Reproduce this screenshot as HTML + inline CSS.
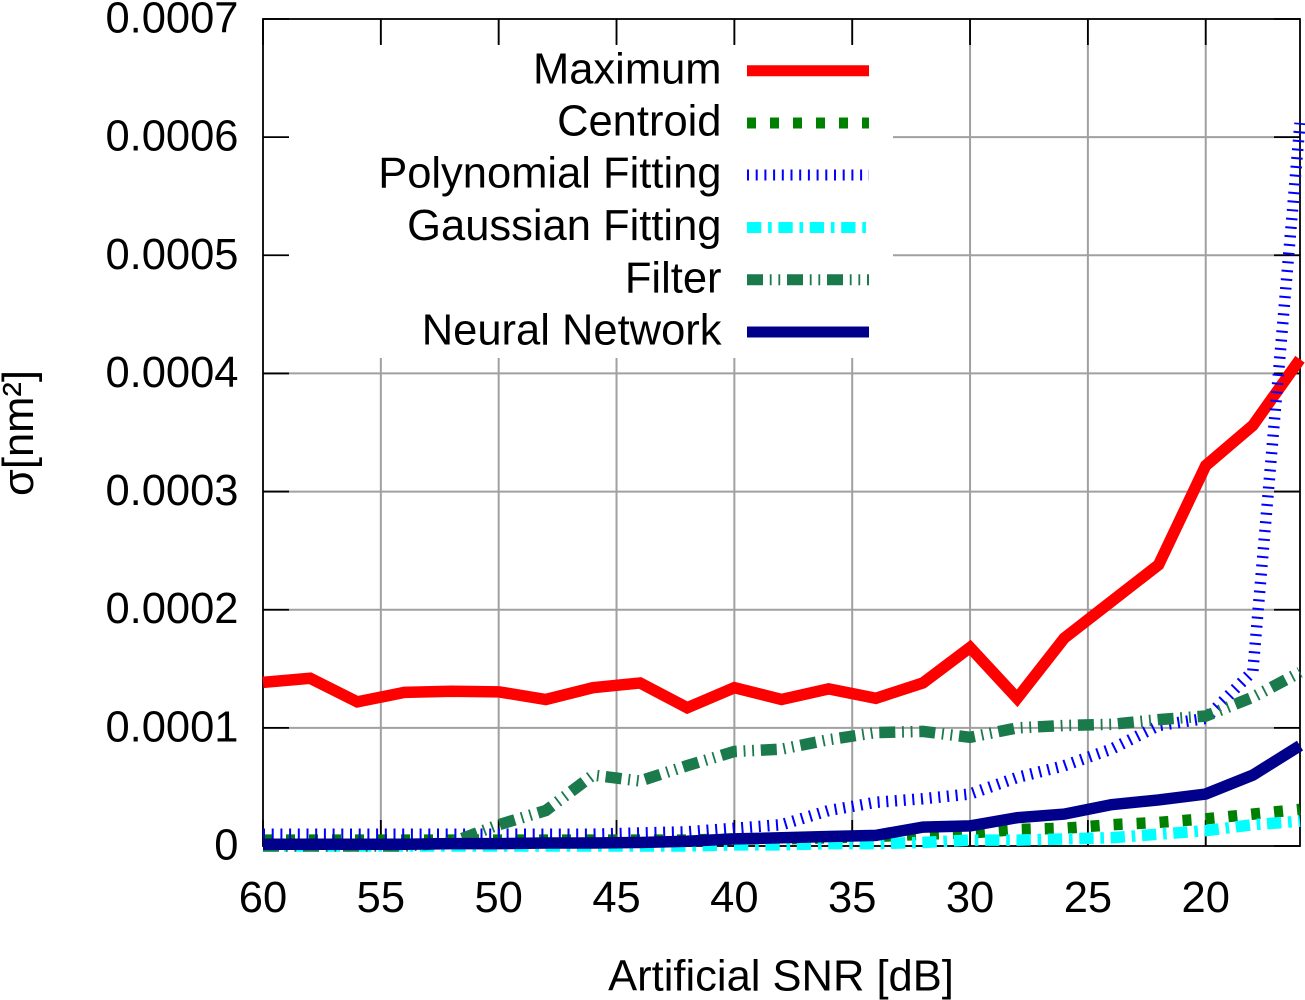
<!DOCTYPE html>
<html>
<head>
<meta charset="utf-8">
<title>Artificial SNR chart</title>
<style>
html,body{margin:0;padding:0;background:#fff;}
svg{display:block;}
text{font-family:"Liberation Sans",sans-serif;font-size:43.5px;fill:#000;}
</style>
</head>
<body>
<svg id="chart" xmlns="http://www.w3.org/2000/svg" width="1305" height="1000" viewBox="0 0 1305 1000">
  <rect x="0" y="0" width="1305" height="1000" fill="#fff"/>
  <g id="grid"></g>
  <rect x="264" y="44" width="629" height="314" fill="#fff"/>
  <g id="ticks"></g>
  <rect x="263" y="19" width="1037" height="827" fill="none" stroke="#000" stroke-width="1.8"/>
  <g id="tick-labels"></g>
  <g id="series"></g>
  <g text-anchor="end">
    <g>
      <text x="721.5" y="83.5">Maximum</text>
      <line x1="747" x2="869" y1="70.7" y2="70.7" stroke="#ff0000" stroke-width="11"/>
    </g>
    <g>
      <text x="721.5" y="135.5">Centroid</text>
      <line x1="747" x2="869" y1="123" y2="123" stroke="#008000" stroke-width="11" stroke-dasharray="9 14"/>
    </g>
    <g>
      <text x="721.5" y="187.5">Polynomial Fitting</text>
      <line x1="747" x2="869" y1="175" y2="175" stroke="#0000ff" stroke-width="11" stroke-dasharray="2 6.7"/>
    </g>
    <g>
      <text x="721.5" y="240">Gaussian Fitting</text>
      <line x1="747" x2="869" y1="227.5" y2="227.5" stroke="#00ffff" stroke-width="11" stroke-dasharray="14.3 6.8 3.6 6.7"/>
    </g>
    <g>
      <text x="721.5" y="292.5">Filter</text>
      <line x1="747" x2="869" y1="279.7" y2="279.7" stroke="#1a7a4c" stroke-width="11" stroke-dasharray="16 6.8 1.8 6.8 1.8 6.8"/>
    </g>
    <g>
      <text x="721.5" y="344.5">Neural Network</text>
      <line x1="747" x2="869" y1="332" y2="332" stroke="#00008b" stroke-width="11"/>
    </g>
  </g>
  <text x="781" y="990.5" text-anchor="middle">Artificial SNR [dB]</text>
  <text transform="translate(33,433) rotate(-90)" text-anchor="middle">σ[nm²]</text>
</svg>
<script>
const snr = [60,58,56,54,52,50,48,46,44,42,40,38,36,34,32,30,28,26,24,22,20,18,16];
const maximumValues = [1.385e-4,1.42e-4,1.22e-4,1.30e-4,1.31e-4,1.305e-4,1.24e-4,1.34e-4,1.38e-4,1.17e-4,1.34e-4,1.24e-4,1.33e-4,1.25e-4,1.38e-4,1.68e-4,1.25e-4,1.76e-4,2.07e-4,2.38e-4,3.22e-4,3.56e-4,4.12e-4];
const centroidValues = [0.05e-4,0.05e-4,0.05e-4,0.05e-4,0.05e-4,0.05e-4,0.05e-4,0.05e-4,0.05e-4,0.05e-4,0.06e-4,0.06e-4,0.07e-4,0.08e-4,0.10e-4,0.11e-4,0.14e-4,0.15e-4,0.18e-4,0.20e-4,0.23e-4,0.27e-4,0.31e-4];
const polynomialValues = [0.10e-4,0.10e-4,0.10e-4,0.10e-4,0.10e-4,0.10e-4,0.10e-4,0.10e-4,0.11e-4,0.12e-4,0.15e-4,0.18e-4,0.30e-4,0.37e-4,0.40e-4,0.44e-4,0.58e-4,0.68e-4,0.82e-4,1.02e-4,1.08e-4,1.48e-4,6.12e-4];
const gaussianValues = [0,0,0,0,0,0,0,0,0,0,0.01e-4,0.01e-4,0.02e-4,0.02e-4,0.03e-4,0.05e-4,0.05e-4,0.06e-4,0.07e-4,0.10e-4,0.13e-4,0.18e-4,0.21e-4];
const filterValues = [0,0,0,0,0.03e-4,0.18e-4,0.30e-4,0.60e-4,0.55e-4,0.68e-4,0.80e-4,0.82e-4,0.90e-4,0.96e-4,0.97e-4,0.92e-4,1.00e-4,1.02e-4,1.03e-4,1.07e-4,1.10e-4,1.26e-4,1.47e-4];
const neuralValues = [0.015e-4,0.015e-4,0.015e-4,0.015e-4,0.02e-4,0.02e-4,0.025e-4,0.025e-4,0.03e-4,0.04e-4,0.06e-4,0.07e-4,0.08e-4,0.09e-4,0.16e-4,0.17e-4,0.24e-4,0.27e-4,0.35e-4,0.39e-4,0.44e-4,0.60e-4,0.85e-4];
const xTickValues = [60,55,50,45,40,35,30,25,20];
const yTickValues = [0,0.0001,0.0002,0.0003,0.0004,0.0005,0.0006,0.0007];
const yTickLabels = ['0','0.0001','0.0002','0.0003','0.0004','0.0005','0.0006','0.0007'];

const NS = 'http://www.w3.org/2000/svg';
const plot = {left:263,right:1300,top:19,bottom:846};
const xDomain = [60,16];
const yDomain = [0,0.0007];
function xScale(v){return plot.left+(v-xDomain[0])/(xDomain[1]-xDomain[0])*(plot.right-plot.left);}
function yScale(v){return plot.bottom-(v-yDomain[0])/(yDomain[1]-yDomain[0])*(plot.bottom-plot.top);}
function makeLine(x1,y1,x2,y2,color,width){
  const l=document.createElementNS(NS,'line');
  l.setAttribute('x1',x1);l.setAttribute('y1',y1);l.setAttribute('x2',x2);l.setAttribute('y2',y2);
  l.setAttribute('stroke',color);l.setAttribute('stroke-width',width);
  return l;
}
const gridG=document.getElementById('grid');
const ticksG=document.getElementById('ticks');
const labelsG=document.getElementById('tick-labels');
const tickLen=26;

xTickValues.forEach(function(v){
  const x=xScale(v);
  if(v!==xDomain[0]){
    const g=makeLine(x,plot.top,x,plot.bottom,'#a0a0a0',2);
    
    
    gridG.appendChild(g);
  }
  const t1=makeLine(x,plot.bottom,x,plot.bottom-tickLen,'#000',1.8);
  
  
  ticksG.appendChild(t1);
  const t2=makeLine(x,plot.top,x,plot.top+tickLen,'#000',1.8);
  
  
  ticksG.appendChild(t2);
  const tx=document.createElementNS(NS,'text');
  tx.setAttribute('x',x);
  tx.setAttribute('y',912);
  tx.setAttribute('text-anchor','middle');
  tx.textContent=String(v);
  
  
  labelsG.appendChild(tx);
});

yTickValues.forEach(function(v,i){
  const y=yScale(v);
  if(v!==yDomain[0]&&v!==yDomain[1]){
    const g=makeLine(plot.left,y,plot.right,y,'#a0a0a0',2);
    
    
    gridG.appendChild(g);
  }
  const t1=makeLine(plot.left,y,plot.left+tickLen,y,'#000',1.8);
  
  
  ticksG.appendChild(t1);
  const t2=makeLine(plot.right,y,plot.right-tickLen,y,'#000',1.8);
  
  
  ticksG.appendChild(t2);
  const tx=document.createElementNS(NS,'text');
  tx.setAttribute('x',238.5);
  tx.setAttribute('y',y+13.5);
  tx.setAttribute('text-anchor','end');
  tx.textContent=yTickLabels[i];
  
  
  labelsG.appendChild(tx);
});

function drawSeries(name,values,color,dash){
  const p=document.createElementNS(NS,'polyline');
  const pts=values.map(function(v,i){return xScale(snr[i]).toFixed(2)+','+yScale(v).toFixed(2);}).join(' ');
  p.setAttribute('points',pts);
  p.setAttribute('fill','none');
  p.setAttribute('stroke',color);
  p.setAttribute('stroke-width','11.5');
  p.setAttribute('stroke-linejoin','miter');
  if(dash){p.setAttribute('stroke-dasharray',dash);}
  
  
  document.getElementById('series').appendChild(p);
}
drawSeries('series-maximum',maximumValues,'#ff0000','');
drawSeries('series-centroid',centroidValues,'#008000','9 14');
drawSeries('series-polynomial-fitting',polynomialValues,'#0000ff','2 6.7');
drawSeries('series-gaussian-fitting',gaussianValues,'#00ffff','14.3 6.8 3.6 6.7');
drawSeries('series-filter',filterValues,'#1a7a4c','16 6.8 1.8 6.8 1.8 6.8');
drawSeries('series-neural-network',neuralValues,'#00008b','');
</script>
</body>
</html>
